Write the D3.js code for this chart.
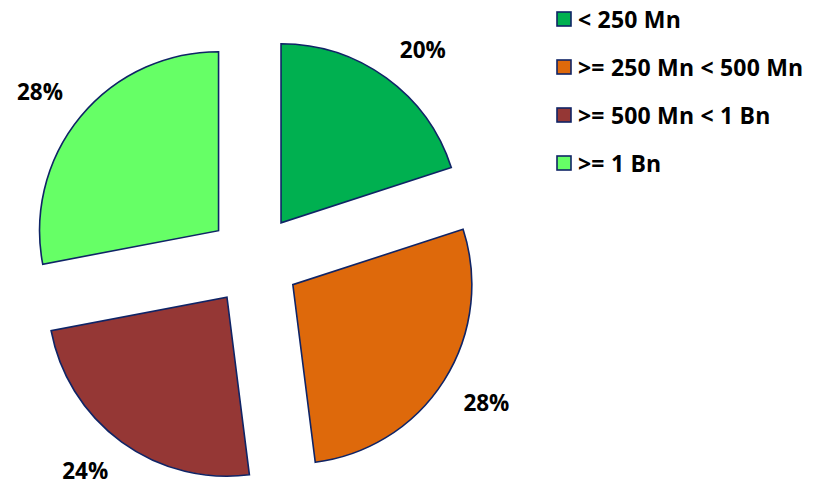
<!DOCTYPE html>
<html><head><meta charset="utf-8">
<script src="https://cdn.jsdelivr.net/npm/d3@7"></script>
<style>body{margin:0;background:#fff}svg{display:block}</style>
</head><body>
<script>
const categories = ["< 250 Mn", ">= 250 Mn < 500 Mn", ">= 500 Mn < 1 Bn", ">= 1 Bn"];
const values = [20, 28, 24, 28];
const colors = ["#00B050", "#DE690B", "#953735", "#66FF66"];

const W = 817, H = 482;
const cx = 254, cy = 260, R = 179, explode = 46, labelR = 248;
const svg = d3.select("body").append("svg").attr("width", W).attr("height", H);
const font = "'Open Sans', sans-serif";
const fs = 22.5;

const pie = d3.pie().sort(null).value(d => d)(values);
const arc = d3.arc().innerRadius(0).outerRadius(R);
const g = svg.append("g").attr("transform", `translate(${cx},${cy})`);
const total = d3.sum(values);

pie.forEach((p, i) => {
  const mid = (p.startAngle + p.endAngle) / 2;
  const sx = Math.sin(mid), sy = -Math.cos(mid);
  g.append("path").attr("d", arc(p)).attr("transform", `translate(${explode * sx},${explode * sy})`)
    .attr("fill", colors[i]).attr("stroke", "#0F2466").attr("stroke-width", 1.6)
    .attr("stroke-linejoin", "miter");
  const t = g.append("text")
    .attr("text-anchor", "middle").attr("dominant-baseline", "central")
    .attr("font-family", font).attr("font-weight", "bold").attr("font-size", fs)
    .text(Math.round(p.value / total * 100) + "%");
  const w = t.node().getComputedTextLength(), h = 20;
  t.attr("x", labelR * sx + Math.sign(sx) * w / 2)
   .attr("y", labelR * sy + Math.sign(sy) * h / 2);
});

const lg = svg.append("g").attr("transform", "translate(557,19)");
categories.forEach((c, i) => {
  const row = lg.append("g").attr("transform", `translate(0,${i * 48})`);
  row.append("rect").attr("x", 0).attr("y", -7).attr("width", 14).attr("height", 14)
    .attr("fill", colors[i]).attr("stroke", "#0F2466").attr("stroke-width", 1.6);
  row.append("text").attr("x", 21).attr("y", 0).attr("dominant-baseline", "central")
    .attr("font-family", font).attr("font-weight", "bold").attr("font-size", 23)
    .attr("letter-spacing", 0.2).text(c);
});
</script>
</body></html>
